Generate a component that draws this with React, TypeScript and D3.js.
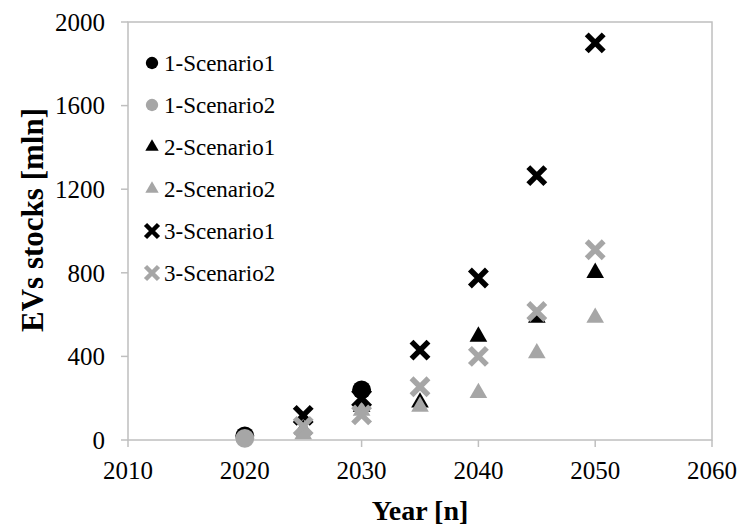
import React from "react";
import * as d3 from "d3";

const W = 740;
const H = 528;

const xTicks = [2010, 2020, 2030, 2040, 2050, 2060];
const yTicks = [0, 400, 800, 1200, 1600, 2000];

const seriesNames = ["1-Scenario1", "1-Scenario2", "2-Scenario1", "2-Scenario2", "3-Scenario1", "3-Scenario2"];
const seriesShapes = ["circle", "circle", "triangle", "triangle", "x", "x"];
const seriesColors = ["#000000", "#a6a6a6", "#000000", "#a6a6a6", "#000000", "#a6a6a6"];

const s1Years = [2020, 2030];
const s1Values = [20, 240];
const s2Years = [2020];
const s2Values = [8];
const s3Years = [2025, 2030, 2035, 2040, 2045, 2050];
const s3Values = [50, 160, 180, 495, 585, 800];
const s4Years = [2025, 2030, 2035, 2040, 2045, 2050];
const s4Values = [28, 140, 160, 225, 415, 585];
const s5Years = [2025, 2030, 2035, 2040, 2045, 2050];
const s5Values = [118, 200, 430, 775, 1265, 1900];
const s6Years = [2025, 2030, 2035, 2040, 2045, 2050];
const s6Values = [65, 120, 255, 400, 615, 910];

const seriesYears = [s1Years, s2Years, s3Years, s4Years, s5Years, s6Years];
const seriesValues = [s1Values, s2Values, s3Values, s4Values, s5Values, s6Values];

const FONT = "Liberation Serif, Times New Roman, serif";
const AXIS = "#bfbfbf";
const txt = { fontFamily: FONT } as React.CSSProperties;

function Marker({ shape, color, x, y, small }: { shape: string; color: string; x: number; y: number; small?: boolean }) {
  if (shape === "circle") {
    const d = d3.symbol(d3.symbolCircle, small ? 120 : 280)();
    return <path d={d || ""} transform={`translate(${x},${y})`} fill={color} />;
  }
  if (shape === "triangle") {
    const d = d3.symbol(d3.symbolTriangle, small ? 78 : 135)();
    return <path d={d || ""} transform={`translate(${x},${y})`} fill={color} />;
  }
  const h = small ? 6.5 : 8.5;
  return (
    <path
      d={`M${-h},${-h}L${h},${h}M${-h},${h}L${h},${-h}`}
      transform={`translate(${x},${y})`}
      stroke={color}
      strokeWidth={small ? 4.5 : 5.5}
      fill="none"
    />
  );
}

export default function App() {
  const x = d3.scaleLinear().domain([2010, 2060]).range([128, 712]);
  const y = d3.scaleLinear().domain([0, 2000]).range([440, 22]);

  const legendY0 = 63;
  const legendStep = 42;

  return (
    <svg width={W} height={H} style={{ display: "block", position: "absolute", left: 0, top: 0 }}>
      <rect width={W} height={H} fill="#fff" />
      {/* frame */}
      <rect x={x(2010)} y={y(2000)} width={x(2060) - x(2010)} height={y(0) - y(2000)} fill="none" stroke={AXIS} strokeWidth={1.5} />
      {/* y ticks */}
      {yTicks.map((t) => (
        <g key={"y" + t}>
          <line x1={x(2010) - 7} x2={x(2010)} y1={y(t)} y2={y(t)} stroke={AXIS} strokeWidth={1.5} />
          <text x={105} y={y(t)} dy="0.35em" textAnchor="end" fontSize={25} fill="#000" style={txt}>
            {t}
          </text>
        </g>
      ))}
      {/* x ticks */}
      {xTicks.map((t) => (
        <g key={"x" + t}>
          <line x1={x(t)} x2={x(t)} y1={y(0)} y2={y(0) + 7} stroke={AXIS} strokeWidth={1.5} />
          <text x={x(t)} y={479} textAnchor="middle" fontSize={25} fill="#000" style={txt}>
            {t}
          </text>
        </g>
      ))}
      {/* axis titles */}
      <text x={420} y={520} textAnchor="middle" fontSize={28} fontWeight="bold" fill="#000" style={txt}>
        Year [n]
      </text>
      <text transform={`translate(43,220) rotate(-90)`} textAnchor="middle" fontSize={31} fontWeight="bold" fill="#000" style={txt}>
        EVs stocks [mln]
      </text>
      {/* data */}
      {seriesNames.map((name, si) => (
        <g key={name}>
          {seriesYears[si].map((yr, i) => (
            <Marker key={yr} shape={seriesShapes[si]} color={seriesColors[si]} x={x(yr)} y={y(seriesValues[si][i])} />
          ))}
        </g>
      ))}
      {/* legend */}
      {seriesNames.map((name, si) => (
        <g key={"lg" + name}>
          <Marker shape={seriesShapes[si]} color={seriesColors[si]} x={152} y={legendY0 + si * legendStep} small />
          <text x={164} y={legendY0 + si * legendStep} dy="0.36em" fontSize={23} fill="#000" style={txt}>
            {name}
          </text>
        </g>
      ))}
    </svg>
  );
}
